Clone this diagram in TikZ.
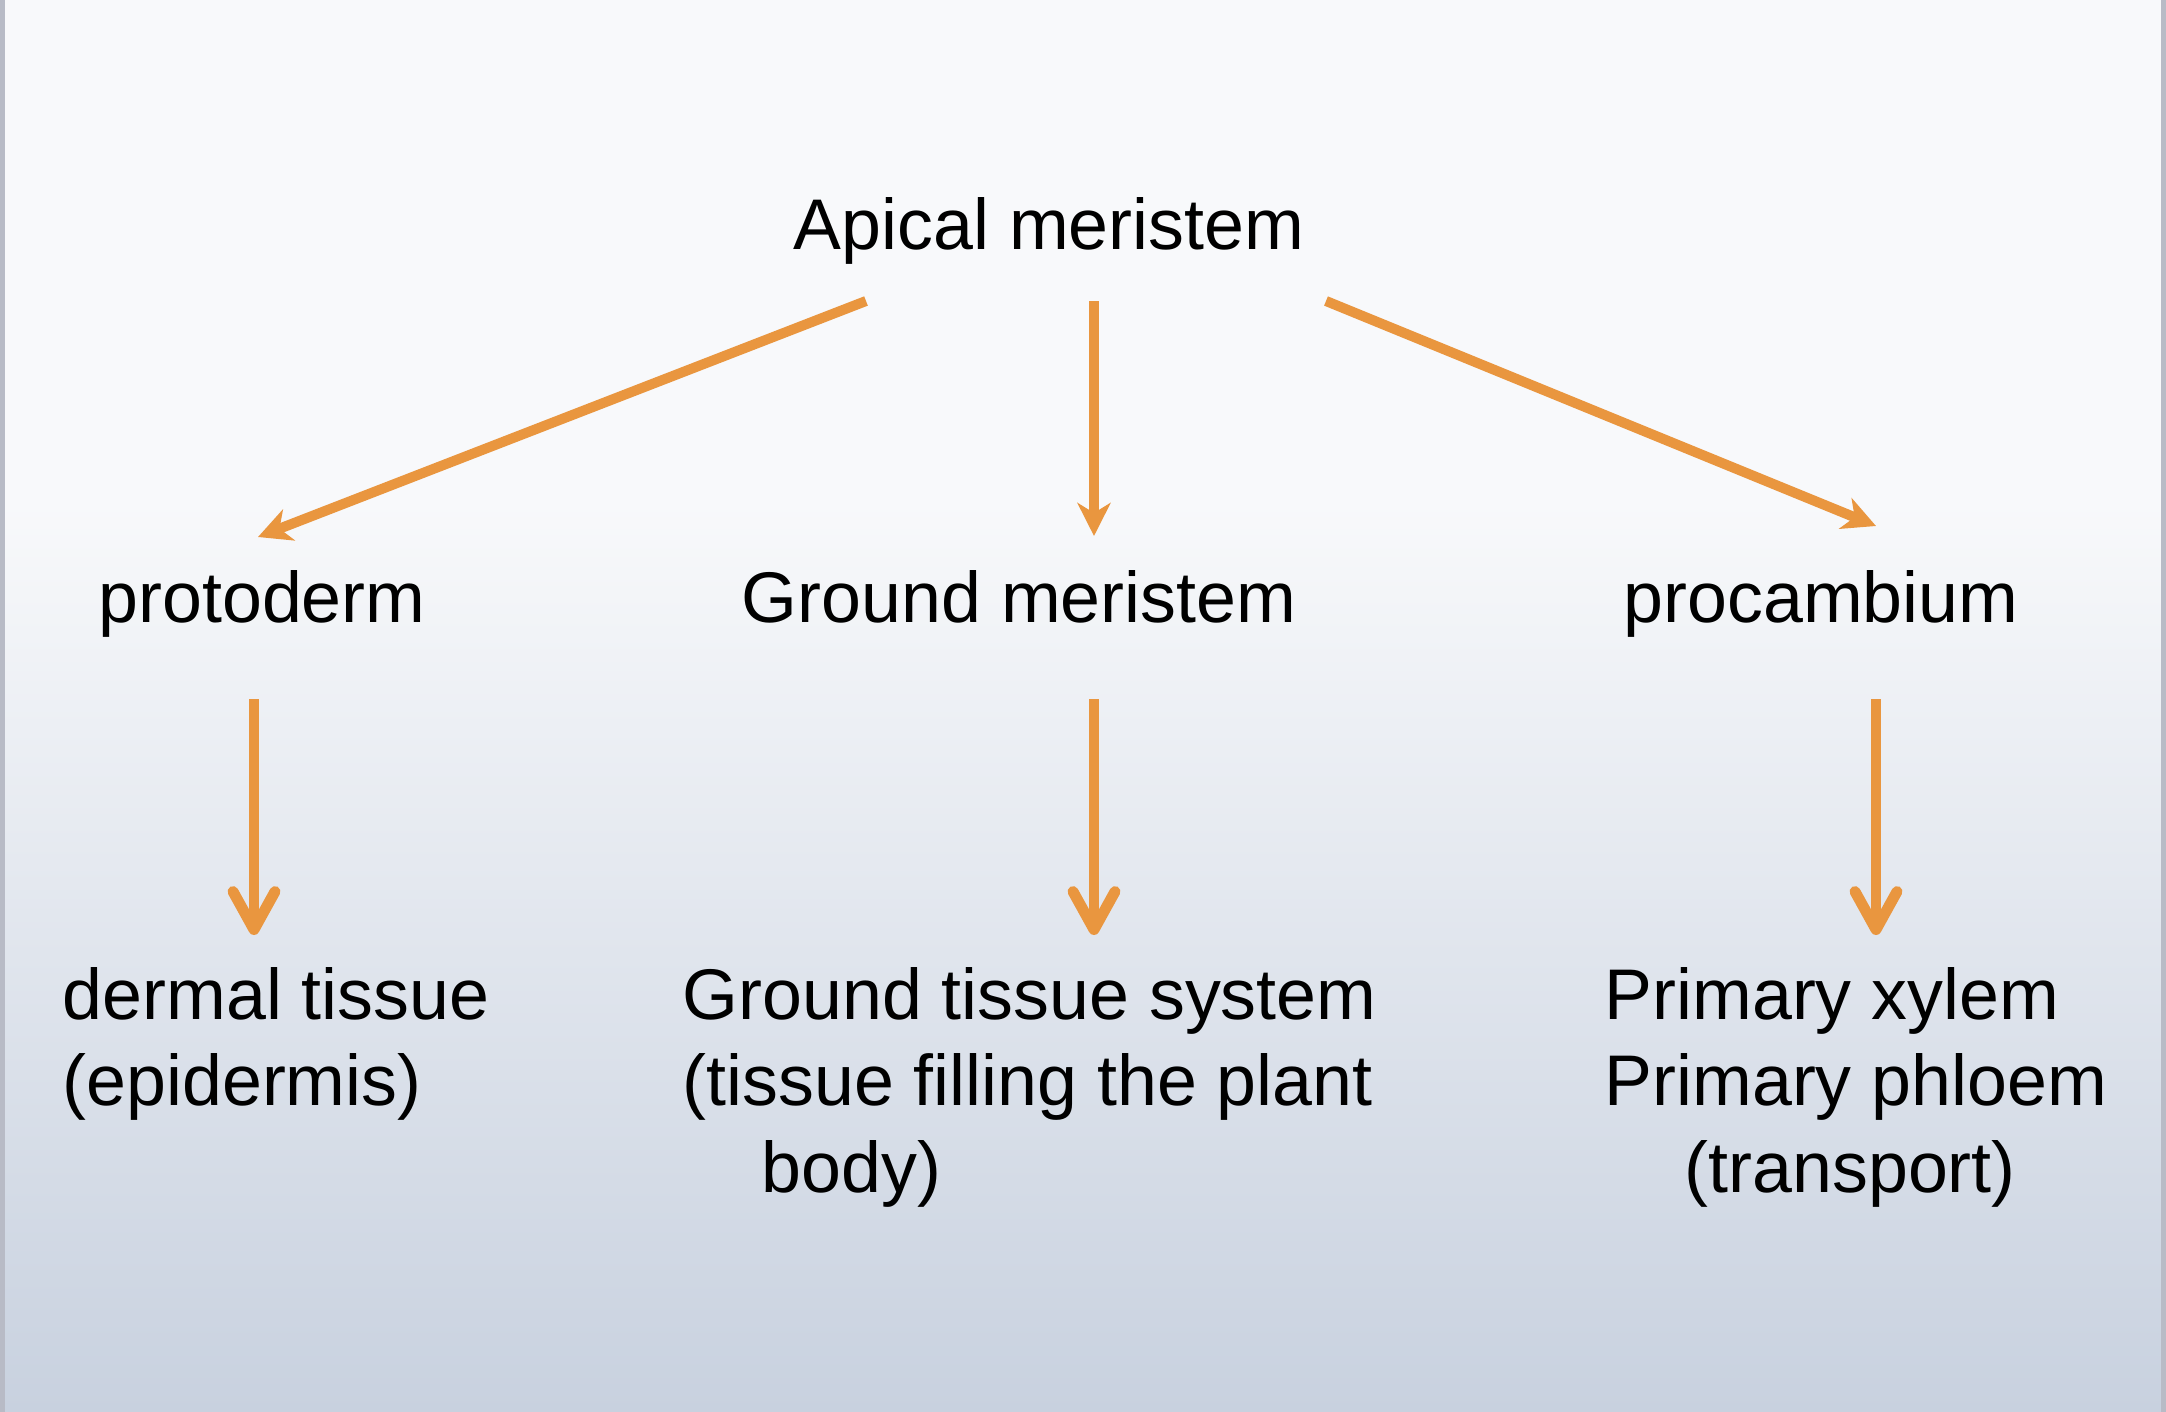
\documentclass[tikz,border=0pt]{standalone}
\usepackage{fontspec}
\setmainfont{Liberation Sans}
\usetikzlibrary{calc}
\usetikzlibrary {arrows.meta,positioning}
\definecolor{arrowcol}{RGB}{233,150,63}
\definecolor{bgtop}{RGB}{248,249,251}
\definecolor{bgbot}{RGB}{200,209,223}
\definecolor{edgecol}{RGB}{184,187,198}

\begin{document}
\begin{tikzpicture}[x=0.01cm,y=-0.01cm,
	txt/.style={inner sep=0pt,font=\fontsize{20.4}{24.5}\selectfont},
	toparrow/.style={draw=arrowcol,line width=2.85pt,-{Stealth[length=0.33cm,width=0.33cm,inset=0.1cm]}},
	botarrow/.style={draw=arrowcol,line width=3.1pt,-{Straight Barb[round,length=0.38cm,width=0.42cm]}}]
		% background
		\useasboundingbox (0,0) rectangle (2166,1412);
		\fill[bgtop] (0,0) rectangle (2166,502);
		\shade[top color=bgtop,bottom color=bgbot] (0,500) rectangle (2166,1412);
		\draw[edgecol,line width=2pt] (1,0) -- (1,1412);
		\draw[edgecol,line width=2pt] (2164,0) -- (2164,1412);
		% meristems
\node[txt,anchor=base] (apical) at (1049,249) {Apical meristem};
\node[txt,anchor=base] (protoderm) at (262,622) {protoderm};
\node[txt,anchor=base] (groundm) at (1019,622) {Ground meristem};
\node[txt,anchor=base] (procamb) at (1821,622) {procambium};
		% tissues
\node[txt,anchor=north west,align=left] (dermal) at (62,967) {dermal tissue\\(epidermis)};
\node[txt,anchor=north west,align=left] (groundt) at (682,967) {Ground tissue system\\(tissue filling the plant\\\hspace*{0.79cm}body)};
\node[txt,anchor=north west,align=left] (primary) at (1604,967) {Primary xylem\\Primary phloem\\\hspace*{0.80cm}(transport)};
		% arrows
\draw[toparrow] ([shift={(-183,52)}]apical.base) -- ([shift={(-4,-85)}]protoderm.base);
\draw[toparrow] ([shift={(45,52)}]apical.base) -- ([shift={(75,-86)}]groundm.base);
\draw[toparrow] ([shift={(277,52)}]apical.base) -- ([shift={(55,-96)}]procamb.base);

\draw[botarrow] ([shift={(-8,77)}]protoderm.base) -- ([shift={(192,-32)}]dermal.north west);
\draw[botarrow] ([shift={(75,77)}]groundm.base) -- ([shift={(412,-32)}]groundt.north west);
\draw[botarrow] ([shift={(55,77)}]procamb.base) -- ([shift={(272,-32)}]primary.north west);
	\end{tikzpicture}
\end{document}
